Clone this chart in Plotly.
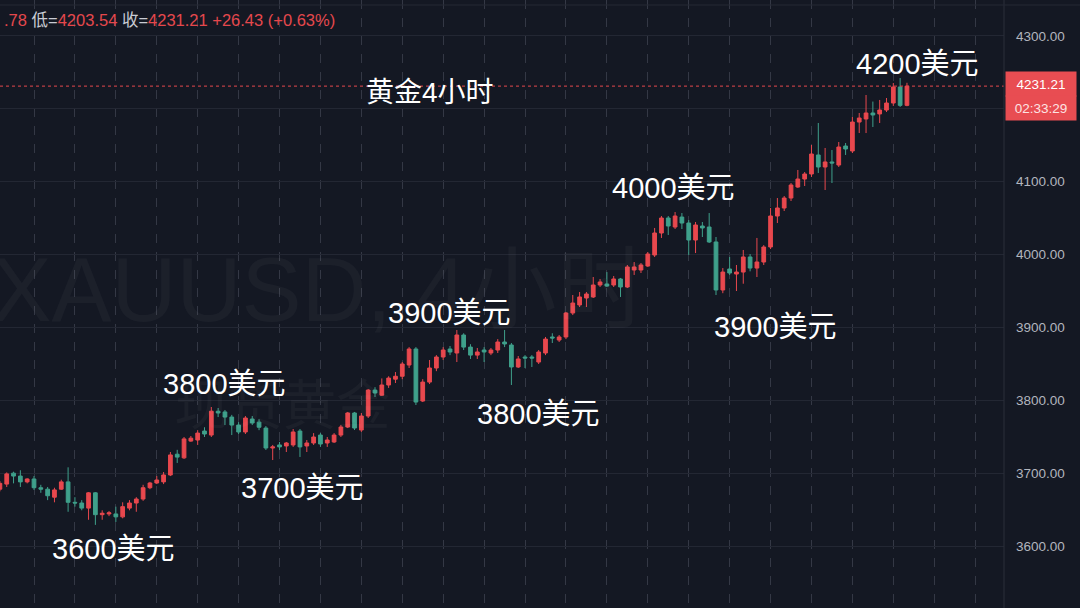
import plotly.graph_objects as go

# XAUUSD 4h candles (oldest -> newest)
open_ = [
    3678, 3685, 3700, 3696, 3688, 3692, 3680, 3678, 3667, 3678,
    3688, 3660, 3659, 3652, 3673, 3643, 3644, 3644, 3640, 3652,
    3659, 3664.5, 3680, 3686.5, 3688, 3697.5, 3726, 3721, 3744, 3745.5,
    3757.8, 3752.3, 3785, 3784, 3777, 3766, 3756.5, 3774.3, 3770, 3761.9,
    3734.5, 3738.7, 3737.3, 3738.7, 3757.8, 3737.3, 3741.4, 3752.3, 3741.4, 3742.8,
    3752.3, 3763.3, 3782.6, 3759.2, 3778.4, 3814, 3807, 3821, 3829, 3833,
    3848.4, 3870.4, 3799, 3825, 3844.3, 3859.4, 3870.4, 3864.9, 3889.6, 3873,
    3862, 3869, 3864.9, 3869, 3880, 3875.9, 3845.7, 3859.4, 3859.4, 3852.5,
    3864.9, 3886.9, 3882.7, 3886.9, 3919.8, 3930.8, 3940.4, 3941.8, 3958.2, 3959.6,
    3958.2, 3966.5, 3955.5, 3978.8, 3978.8, 3984.3, 3999.4, 4029.6, 4050.2, 4037.8,
    4051.5, 4043.3, 4020, 4039.2, 4037.8, 4017.3, 3951.4, 3980.2, 3973.3, 3976,
    3996.7, 3981.5, 3989.8, 4010.4, 4052.9, 4063.9, 4077.6, 4092.7, 4103.7, 4110.6,
    4136.7, 4120.2, 4127.1, 4122.9, 4149, 4142.2, 4181.9, 4186.1, 4194.3, 4193,
    4198.4, 4208, 4230, 4204.78,
]
high = [
    3689, 3701, 3702, 3704, 3693, 3696, 3684, 3681, 3680, 3691,
    3708, 3667, 3663, 3674, 3674, 3649, 3648, 3654, 3660, 3663,
    3667, 3684, 3688, 3696, 3701.6, 3729, 3732, 3749.6, 3751, 3759,
    3763, 3790.8, 3789.4, 3786.7, 3780, 3770, 3778.4, 3778.4, 3774, 3764.6,
    3738.7, 3742.8, 3742.8, 3760.6, 3760.6, 3745.5, 3755, 3755, 3749.6, 3755,
    3766, 3784, 3784, 3782.6, 3815.5, 3818, 3830, 3833, 3838.8, 3852.5,
    3873, 3873, 3829, 3855.3, 3862, 3873, 3874.5, 3896.5, 3892, 3877,
    3871.8, 3873, 3871.8, 3884, 3896.5, 3878.6, 3860.8, 3862, 3862, 3869,
    3886.9, 3892, 3889.6, 3921.2, 3944.5, 3948.6, 3948.6, 3969.2, 3966.5, 3976,
    3970.6, 3967.9, 3985.7, 3989.8, 3988.4, 4003.5, 4036.5, 4052.9, 4052.9, 4058.4,
    4057, 4047.4, 4044.7, 4044.7, 4057, 4024.1, 3981.5, 3996.7, 3985.7, 4006.3,
    4000.8, 4022.8, 4013, 4063.9, 4077.6, 4080.4, 4098.2, 4116.1, 4113.3, 4150.4,
    4180.6, 4146.3, 4143.5, 4154.5, 4153.1, 4188.8, 4194.3, 4219, 4210, 4212.2,
    4214.9, 4235.5, 4242.3, 4235.78,
]
low = [
    3675, 3681, 3686, 3681, 3686, 3677, 3673, 3663, 3660, 3677,
    3647, 3654, 3649, 3636, 3629, 3636, 3641, 3633, 3638, 3649,
    3647, 3662, 3678, 3685, 3685, 3696, 3714, 3719.5, 3743, 3738.7,
    3749.6, 3749.6, 3777, 3766, 3752.3, 3753.7, 3753.7, 3766, 3759, 3731.8,
    3718, 3731.8, 3729, 3736, 3722.2, 3729, 3738.7, 3736, 3736, 3741.4,
    3749.6, 3761.9, 3759.2, 3756.5, 3775.7, 3804.5, 3806, 3817, 3823.7, 3829,
    3844.3, 3793.5, 3797.6, 3822.3, 3840, 3855.3, 3862, 3852.5, 3869, 3856.7,
    3856.7, 3852.5, 3862, 3864.9, 3873, 3821, 3844.3, 3844.3, 3845.7, 3849.8,
    3862, 3878.6, 3880, 3884, 3917, 3928, 3928, 3940.4, 3955.5, 3955.5,
    3955.5, 3941.8, 3954.1, 3972, 3974.7, 3983, 3996.7, 4022.8, 4026.9, 4035.1,
    4035.1, 3999.4, 4002.1, 4024.1, 4015.9, 3944.5, 3947, 3972, 3950, 3960,
    3977, 3969.2, 3985.7, 4007.6, 4043.3, 4059.8, 4073.5, 4091.4, 4094.1, 4106.5,
    4112, 4088.6, 4098.2, 4120.2, 4136.7, 4139.4, 4166.8, 4166.8, 4175.1, 4180.6,
    4195.7, 4204, 4202.5, 4203.54,
]
close = [
    3686, 3699, 3696, 3688, 3692, 3680, 3678, 3669, 3677, 3688,
    3660, 3659, 3652, 3673, 3643, 3645, 3645.5, 3640, 3654, 3659,
    3664.5, 3680, 3686.5, 3690.6, 3697.5, 3725, 3722, 3747, 3748, 3755,
    3753.7, 3785, 3782.6, 3777, 3766, 3756.5, 3775.7, 3768.8, 3763, 3734.5,
    3736, 3736, 3741.4, 3756.5, 3736, 3741.4, 3749.6, 3740, 3745.5, 3752.3,
    3763.3, 3782.6, 3761.9, 3778.4, 3814, 3810, 3821, 3830.5, 3833, 3849.8,
    3870.4, 3797.6, 3825, 3844.3, 3859.4, 3869, 3866.3, 3889.6, 3873, 3862,
    3866.3, 3866.3, 3869, 3880, 3877.3, 3845.7, 3856.7, 3858, 3858, 3866.3,
    3884, 3885.5, 3886.9, 3919.8, 3933.5, 3941.8, 3945.9, 3958.2, 3962.4, 3956.8,
    3966.5, 3955.5, 3983, 3983, 3985.7, 4000.8, 4029.6, 4050.2, 4039.2, 4052.9,
    4043.3, 4020, 4040.6, 4036.5, 4017.3, 3951.4, 3976, 3974.7, 3976, 3996.7,
    3981.5, 3989.8, 4010.4, 4052.9, 4063.9, 4077.6, 4095.5, 4103.7, 4110.6, 4138,
    4120.2, 4127.1, 4125.7, 4147.6, 4144.9, 4181.9, 4187.4, 4194.3, 4191.6, 4198.4,
    4208, 4230, 4204.78, 4231.21,
]
last_price = 4231.21
countdown = "02:33:29"
price_ticks = [3600, 3700, 3800, 3900, 4000, 4100, 4200, 4300]

# (text, candle index, price) for the level callouts
callouts = [
    ("3600美元", 16.7, 3596),
    ("3700美元", 44.3, 3680),
    ("3800美元", 32.9, 3823),
    ("3800美元", 79.0, 3781),
    ("3900美元", 65.9, 3920),
    ("3900美元", 113.7, 3901),
    ("4000美元", 98.8, 4091),
    ("4200美元", 134.5, 4262),
]
title_text = "黄金4小时"
header_parts = [
    (".78 ", "#e5484d"), ("低=", "#c9ccd4"), ("4203.54 ", "#e5484d"),
    ("收=", "#c9ccd4"), ("4231.21 +26.43 (+0.63%)", "#e5484d"),
]

BG = "#141823"
UP = "#e8484e"
DOWN = "#3fa08b"
FONT = "Liberation Sans, Noto Sans CJK SC, sans-serif"
W, H, PLOT_W = 1080, 608, 1004

x = list(range(len(close)))

fig = go.Figure()

# faint watermark, drawn first so candles sit on top
fig.add_trace(go.Scatter(
    x=[46.8], y=[3940], mode="text", text=["XAUUSD, 4小时"],
    textfont=dict(size=90, color="rgba(255,255,255,0.035)", family=FONT),
    hoverinfo="skip", showlegend=False,
))
fig.add_trace(go.Scatter(
    x=[41.4], y=[3784], mode="text", text=["现货黄金"],
    textfont=dict(size=54, color="rgba(255,255,255,0.035)", family=FONT),
    hoverinfo="skip", showlegend=False,
))

fig.add_trace(go.Candlestick(
    x=x, open=open_, high=high, low=low, close=close,
    increasing=dict(line=dict(color=UP, width=1), fillcolor=UP),
    decreasing=dict(line=dict(color=DOWN, width=1), fillcolor=DOWN),
    whiskerwidth=0, showlegend=False, name="XAUUSD",
))

annotations = []
for text, cx, cy in callouts:
    annotations.append(dict(
        x=cx, y=cy, xref="x", yref="y", text=text, showarrow=False,
        font=dict(size=29, color="#ffffff", family=FONT),
    ))
annotations.append(dict(
    x=63.1, y=4222, xref="x", yref="y", text=title_text, showarrow=False,
    font=dict(size=28, color="#ffffff", family=FONT),
))
annotations.append(dict(
    x=0, y=1 - 20 / H, xref="paper", yref="paper", xanchor="left", yanchor="middle",
    xshift=2,
    text="".join(f"<span style='color:{c}'>{t}</span>" for t, c in header_parts),
    showarrow=False, font=dict(size=16.5, family=FONT),
))
# last price tag on the price scale
annotations.append(dict(
    x=1, y=last_price, xref="paper", yref="y", xanchor="left", yanchor="top",
    xshift=1, yshift=15, text=f"{last_price:.2f}", showarrow=False,
    bgcolor="#e84d52", width=70, height=24, borderpad=0,
    font=dict(size=13.5, color="#ffffff", family=FONT),
))
annotations.append(dict(
    x=1, y=last_price, xref="paper", yref="y", xanchor="left", yanchor="top",
    xshift=1, yshift=-9, text=countdown, showarrow=False,
    bgcolor="#e84d52", width=70, height=24, borderpad=0,
    font=dict(size=13.5, color="#fde3e3", family=FONT),
))

shapes = [
    dict(type="line", xref="paper", yref="y", x0=0, x1=1, y0=last_price, y1=last_price,
         line=dict(color="#e5484d", width=1, dash="dot")),
    dict(type="line", xref="paper", yref="paper", x0=1, x1=1, y0=0, y1=1,
         line=dict(color="#2b2f3a", width=1)),
    dict(type="line", xref="paper", yref="paper", x0=0, x1=W / PLOT_W, y0=1 - 5 / H, y1=1 - 5 / H,
         line=dict(color="#242835", width=1)),
]

# pixel -> data mapping measured on the screenshot
x_range = [(0 - 34) / 6.82 + 5, (PLOT_W - 34) / 6.82 + 5]
y_range = [4349.4 - 1.3725 * H, 4349.4]

fig.update_layout(
    width=W, height=H,
    margin=dict(l=0, r=W - PLOT_W, t=0, b=0),
    paper_bgcolor=BG, plot_bgcolor=BG,
    showlegend=False,
    boxgap=0.22,
    xaxis=dict(
        range=x_range, rangeslider=dict(visible=False), showticklabels=False,
        showgrid=True, gridcolor="#343845", griddash="dash", gridwidth=1,
        tick0=5, dtick=6, zeroline=False, showline=False, fixedrange=True,
    ),
    yaxis=dict(
        range=y_range, side="right", tickvals=price_ticks,
        ticktext=[f"{v:.2f}" for v in price_ticks],
        showgrid=True, gridcolor="#232733", gridwidth=1, zeroline=False,
        ticks="", ticklabelstandoff=11,
        tickfont=dict(size=13.5, color="#b2b5be", family=FONT), fixedrange=True,
    ),
    annotations=annotations,
    shapes=shapes,
)

# drop the browser's default page margin so the chart sits at the window corner
fig.write_html(
    "out.html",
    config={"displayModeBar": False},
    post_script="document.body.style.margin='0';document.body.style.background='" + BG + "';",
)
